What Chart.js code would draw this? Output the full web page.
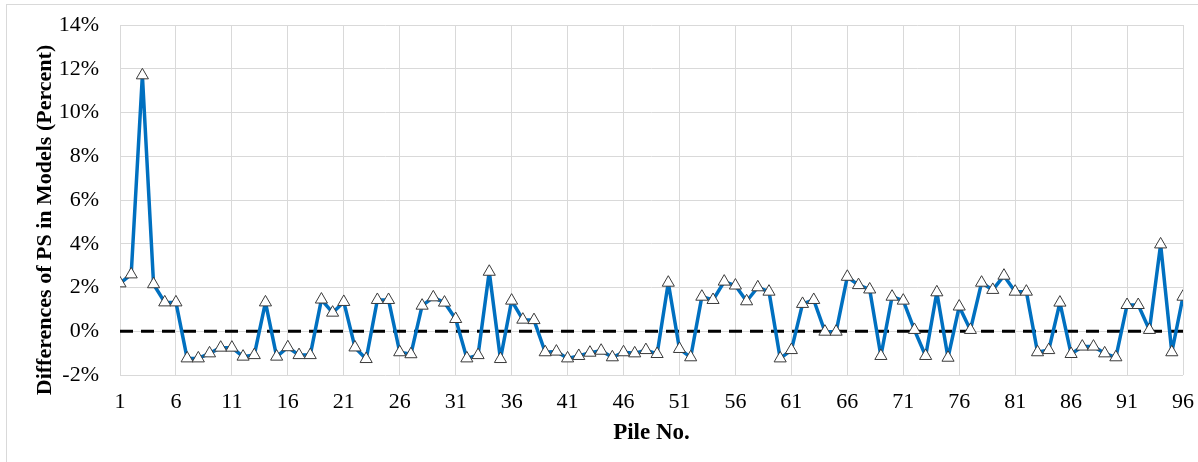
<!DOCTYPE html>
<html>
<head>
<meta charset="utf-8">
<script src="https://cdn.jsdelivr.net/npm/chart.js@4"></script>
<style>
  html, body { margin: 0; padding: 0; background: #fff; }
  #wrap { position: relative; width: 1198px; height: 462px; }
  #frame { position: absolute; left: 6px; top: 4px; right: -2px; bottom: -2px;
           border-left: 1px solid #d9d9d9; border-top: 1px solid #d9d9d9; pointer-events: none; }
</style>
</head>
<body>
<div id="wrap">
  <canvas id="chart" width="1198" height="462"></canvas>
  <div id="frame"></div>
</div>
<script>
// pile numbers 1..96
const piles = Array.from({length: 96}, (_, i) => i + 1);
const xTicks = [1, 6, 11, 16, 21, 26, 31, 36, 41, 46, 51, 56, 61, 66, 71, 76, 81, 86, 91, 96];
const yTicks = [-2, 0, 2, 4, 6, 8, 10, 12, 14];

// difference of PS between models, percent
const diffPS = [
   2.19,  2.60, 11.70,  2.15,  1.32,  1.32, -1.24, -1.24, -1.01, -0.75,
  -0.75, -1.16, -1.09,  1.32, -1.16, -0.73, -1.09, -1.09,  1.45,  0.85,
   1.34, -0.74, -1.27,  1.43,  1.43, -0.96, -1.05,  1.17,  1.55,  1.31,
   0.56, -1.24, -1.09,  2.72, -1.27,  1.40,  0.53,  0.51, -0.96, -0.93,
  -1.24, -1.13, -0.98, -0.89, -1.19, -0.96, -1.01, -0.86, -1.04,  2.22,
  -0.81, -1.19,  1.58,  1.43,  2.27,  2.09,  1.37,  2.01,  1.81, -1.24,
  -0.86,  1.25,  1.43, -0.02, -0.02,  2.49,  2.11,  1.91, -1.13,  1.58,
   1.40,  0.06, -1.13,  1.78, -1.21,  1.13,  0.06,  2.22,  1.89,  2.54,
   1.81,  1.81, -0.96, -0.86,  1.31, -1.04, -0.70, -0.70, -1.01, -1.19,
   1.20,  1.20,  0.06,  3.97, -0.96,  1.58
];
const zeroLine = piles.map(() => 0);

const FONT = "'Liberation Serif', 'Times New Roman', serif";

// no extra room for overflowing tick labels, the layout padding sets the plot box
const noPad = s => { s.paddingTop = 0; s.paddingBottom = 0; s.paddingLeft = 0; s.paddingRight = 0; };

const yTitle = {
  id: 'yTitle',
  afterDraw(chart) {
    const ctx = chart.ctx;
    ctx.save();
    ctx.translate(45, 220);
    ctx.rotate(-Math.PI / 2);
    ctx.font = 'bold 22px ' + FONT;
    ctx.fillStyle = '#000';
    ctx.textAlign = 'center';
    ctx.textBaseline = 'middle';
    ctx.fillText('Differences of PS in Models (Percent)', 0, 0);
    ctx.restore();
  }
};

let chart = new Chart(document.getElementById('chart'), {
  type: 'line',
  data: {
    datasets: [
      {
        data: piles.map((p, i) => ({x: p, y: diffPS[i]})),
        borderColor: '#0070c0',
        borderWidth: 3.5,
        borderJoinStyle: 'round',
        pointStyle: 'triangle',
        pointRadius: 7,
        pointBackgroundColor: '#fff',
        pointBorderColor: '#3a3a3a',
        pointBorderWidth: 1,
        tension: 0,
        order: 1
      },
      {
        data: piles.map((p, i) => ({x: p, y: zeroLine[i]})),
        borderColor: '#000',
        borderWidth: 3,
        borderDash: [13, 8],
        pointRadius: 0,
        order: 2
      }
    ]
  },
  options: {
    responsive: false,
    animation: false,
    devicePixelRatio: 1,
    layout: { padding: {top: 25, right: 15, bottom: 0, left: 0} },
    plugins: { legend: { display: false }, tooltip: { enabled: false } },
    scales: {
      x: {
        type: 'linear',
        min: 1,
        max: 96,
        afterBuildTicks: s => { s.ticks = xTicks.map(v => ({value: v})); },
        afterFit: s => { s.height = 87; noPad(s); },
        grid: { color: '#d9d9d9', drawTicks: false },
        border: { display: false },
        ticks: { color: '#000', font: {family: FONT, size: 22}, padding: 14, maxRotation: 0, autoSkip: false },
        title: { display: true, text: 'Pile No.', color: '#000',
                 font: {family: FONT, size: 23, weight: 'bold'}, padding: {top: 0, bottom: 15} }
      },
      y: {
        min: -2,
        max: 14,
        afterBuildTicks: s => { s.ticks = yTicks.map(v => ({value: v})); },
        afterFit: s => { s.width = 120; noPad(s); },
        grid: { color: '#d9d9d9', drawTicks: false },
        border: { display: false },
        ticks: { color: '#000', font: {family: FONT, size: 22}, padding: 21, callback: v => v + '%' }
      }
    }
  },
  plugins: [yTitle]
});
</script>
</body>
</html>
